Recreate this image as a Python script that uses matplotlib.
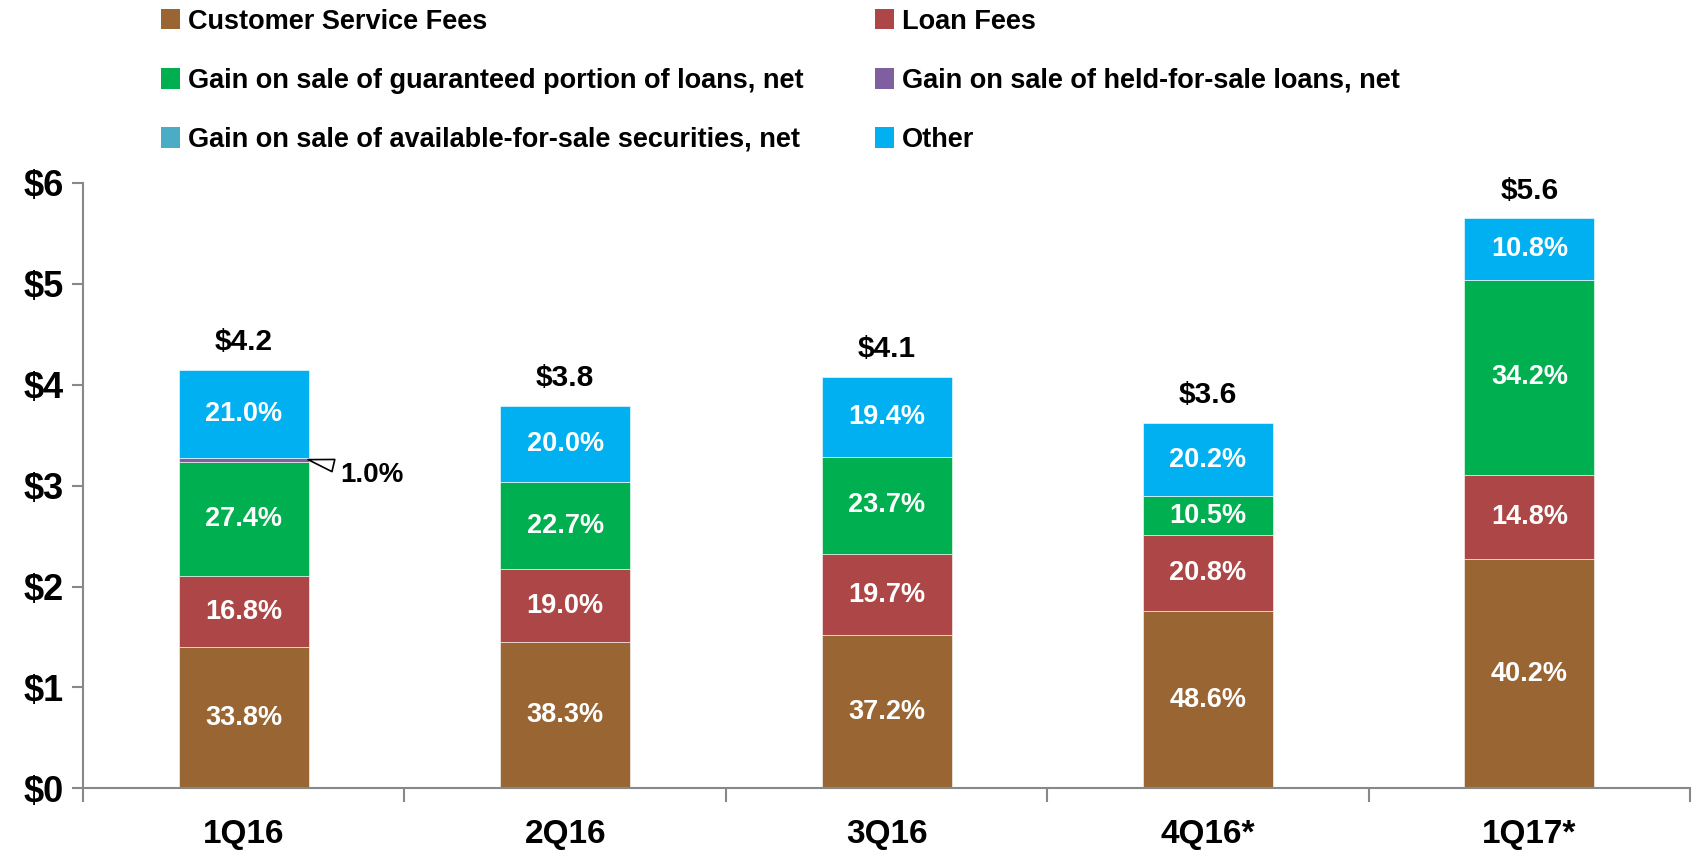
import numpy as np
import matplotlib
matplotlib.use('Agg')
import matplotlib.pyplot as plt
from matplotlib.patches import Patch

plt.rcParams['font.family'] = ['Liberation Sans Narrow', 'Liberation Sans', 'DejaVu Sans']
plt.rcParams['font.weight'] = 'bold'

quarters = ['1Q16', '2Q16', '3Q16', '4Q16*', '1Q17*']
totals = [4.15, 3.79, 4.08, 3.62, 5.65]
total_labels = ['$4.2', '$3.8', '$4.1', '$3.6', '$5.6']

series_names = ['Customer Service Fees', 'Loan Fees',
                'Gain on sale of guaranteed portion of loans, net',
                'Gain on sale of held-for-sale loans, net',
                'Gain on sale of available-for-sale securities, net',
                'Other']
# percent of total for each quarter
pct_customer = [33.8, 38.3, 37.2, 48.6, 40.2]
pct_loan = [16.8, 19.0, 19.7, 20.8, 14.8]
pct_guaranteed = [27.4, 22.7, 23.7, 10.5, 34.2]
pct_held = [1.0, 0.0, 0.0, 0.0, 0.0]
pct_afs = [0.0, 0.0, 0.0, 0.0, 0.0]
pct_other = [21.0, 20.0, 19.4, 20.2, 10.8]

colors = ['#996633', '#AD4747', '#00B050', '#7F5FA0', '#4BACC6', '#00B0F0']

pcts = [pct_customer, pct_loan, pct_guaranteed, pct_held, pct_afs, pct_other]

fig = plt.figure(figsize=(16.96, 8.55), dpi=100)
ax = fig.add_axes([0.049, 0.078, 0.9475, 0.708])

x = np.arange(len(quarters))
tot = np.array(totals)
bottom = np.zeros(len(quarters))
for name, p, c in zip(series_names, pcts, colors):
    p = np.array(p)
    h = tot * p / 100.0
    ax.bar(x, h, 0.405, bottom=bottom, color=c, edgecolor='white', linewidth=0.4)
    for i in range(len(x)):
        if p[i] >= 5:
            ax.text(x[i], bottom[i] + h[i] / 2, '%.1f%%' % p[i], ha='center', va='center',
                    color='white', fontsize=19.5, fontweight='bold')
    bottom = bottom + h

for i in range(len(x)):
    ax.annotate(total_labels[i], (x[i], tot[i]), xytext=(0, 20), textcoords='offset points',
                ha='center', va='center', fontsize=21.5, fontweight='bold', color='black')

# callout for the thin held-for-sale slice
held_mid = tot[0] * (pct_customer[0] + pct_loan[0] + pct_guaranteed[0] + pct_held[0] / 2) / 100.0
ax.annotate('%.1f%%' % pct_held[0], (x[0] + 0.2, held_mid), xytext=(x[0] + 0.30, 3.11),
            textcoords='data', ha='left', va='center', fontsize=20, fontweight='bold',
            arrowprops=dict(arrowstyle='wedge,tail_width=0.45,shrink_factor=0.5',
                            fc='white', ec='black', lw=1.2, shrinkA=3, shrinkB=0))

ax.set_xlim(-0.5, len(quarters) - 0.5)
ax.set_ylim(0, 6)
ax.set_yticks(range(0, 7))
ax.set_yticklabels(['$%d' % v for v in range(0, 7)], fontsize=26, fontweight='bold')
ax.set_xticks(np.arange(-0.5, len(quarters), 1.0))
ax.set_xticklabels([])
ax.set_xticks(x, minor=True)
ax.set_xticklabels(quarters, minor=True, fontsize=24, fontweight='bold')
ax.tick_params(axis='x', which='minor', length=0, pad=22)
ax.tick_params(axis='x', which='major', length=10, width=1.5, color='#888888', direction='out')
ax.tick_params(axis='y', length=8, width=1.5, color='#888888', pad=6)
for s in ['top', 'right']:
    ax.spines[s].set_visible(False)
for s in ['left', 'bottom']:
    ax.spines[s].set_color('#888888')
    ax.spines[s].set_linewidth(1.5)

# legend in two columns
handles = [Patch(facecolor=c, edgecolor='none') for c in colors]
col1 = [0, 2, 4]
col2 = [1, 3, 5]
kw = dict(frameon=False, fontsize=19.5, handlelength=0.7, handleheight=0.8, handletextpad=0.3,
          labelspacing=1.22, borderaxespad=0, borderpad=0, loc='upper left')
leg1 = fig.legend([handles[i] for i in col1], [series_names[i] for i in col1],
                  bbox_to_anchor=(0.095, 0.990), **kw)
leg2 = fig.legend([handles[i] for i in col2], [series_names[i] for i in col2],
                  bbox_to_anchor=(0.516, 0.990), **kw)
for leg in (leg1, leg2):
    for t in leg.get_texts():
        t.set_fontweight('bold')

fig.savefig('out.png', dpi=100)
